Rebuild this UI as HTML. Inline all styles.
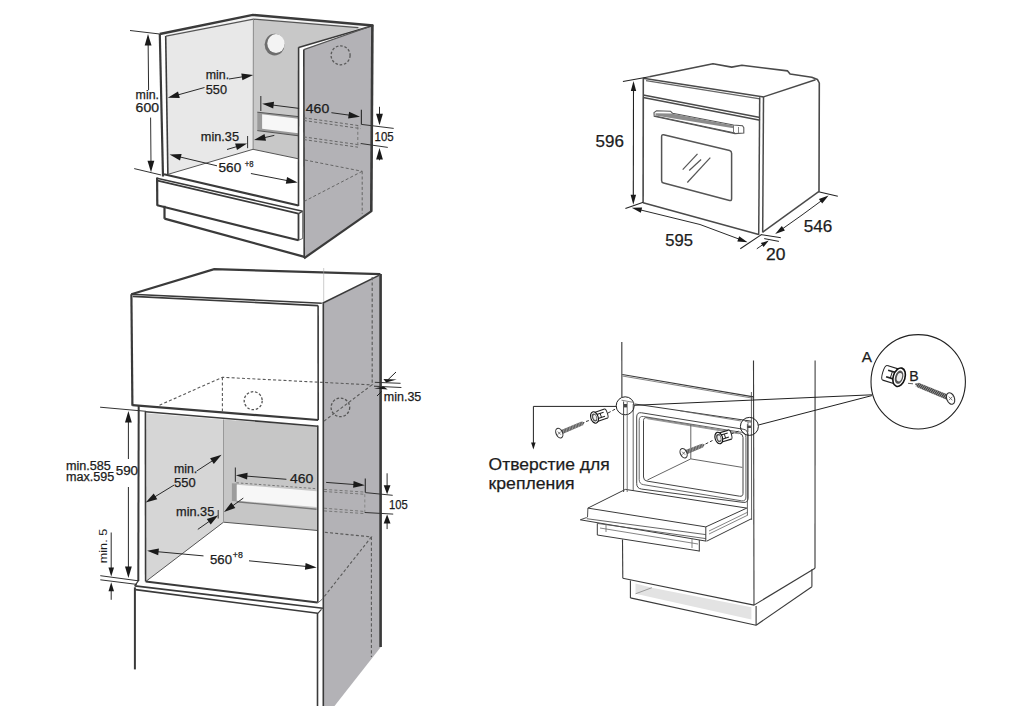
<!DOCTYPE html>
<html><head><meta charset="utf-8"><style>
html,body{margin:0;padding:0;background:#fff;}
svg{display:block;font-family:"Liberation Sans",sans-serif;}
</style></head><body>
<svg width="1024" height="706" viewBox="0 0 1024 706">
<rect width="1024" height="706" fill="#fff"/>
<polygon points="166,36.3 253.3,19 253,149.3 168.5,174.2" fill="#e8e8e8"/>
<polygon points="253.3,19 362,27.5 298.6,47.5 298.5,158.8 253,149.3" fill="#c8c8c8"/>
<polygon points="303.8,49.6 369,26.7 372.3,26 371.2,211 304.2,257.7" fill="#b3b2b6"/>
<polygon points="159.7,34 252.8,14.9 373.2,25.5 362,27.6 253.5,19.1 166,36.2" fill="#f4f4f4"/>
<ellipse cx="274.6" cy="44.6" rx="10" ry="10.8" fill="#6e6e6e"/>
<ellipse cx="276" cy="43.6" rx="8.7" ry="9.5" fill="#f3f3f3"/>
<polygon points="257.3,112.2 298.5,116.8 298.5,135.8 257.3,130.5" fill="#9a9a9a"/>
<polygon points="262.1,114.3 298.3,118.8 298.3,133.3 262.1,128.8" fill="#f7f7f7"/>
<line x1="257.3" y1="112.2" x2="298.5" y2="116.6" stroke="#555" stroke-width="1" stroke-linecap="butt"/>
<line x1="257.3" y1="130.6" x2="298.5" y2="135.8" stroke="#555" stroke-width="1" stroke-linecap="butt"/>
<polygon points="159.7,34 166,36.2 167.9,174.4 162.9,176" fill="#fff"/>
<line x1="159.8" y1="34" x2="163" y2="176.5" stroke="#3a3a3a" stroke-width="2.2" stroke-linecap="butt"/>
<line x1="165.7" y1="36" x2="167.9" y2="174.6" stroke="#3a3a3a" stroke-width="1.6" stroke-linecap="butt"/>
<polyline points="159.7,34 252.8,14.9 373.2,25.5" fill="none" stroke="#3a3a3a" stroke-width="2.4" stroke-linejoin="miter"/>
<polyline points="166,36.2 253.5,19.1 358.4,27.6" fill="none" stroke="#555" stroke-width="1.3" stroke-linejoin="miter"/>
<line x1="253.4" y1="19.2" x2="253.1" y2="149.3" stroke="#8a8a8a" stroke-width="1" stroke-linecap="butt"/>
<polygon points="298.6,47.5 303.8,49.6 304.2,257.7 298.5,257" fill="#fff"/>
<line x1="298.6" y1="47.3" x2="298.5" y2="206" stroke="#3a3a3a" stroke-width="1.6" stroke-linecap="butt"/>
<line x1="303.8" y1="49.6" x2="304.2" y2="257.7" stroke="#3a3a3a" stroke-width="1.6" stroke-linecap="butt"/>
<line x1="298.6" y1="47.5" x2="373.2" y2="25.5" stroke="#3a3a3a" stroke-width="1.6" stroke-linecap="butt"/>
<line x1="303.8" y1="49.6" x2="368.5" y2="27" stroke="#555" stroke-width="1.2" stroke-linecap="butt"/>
<line x1="372.4" y1="24.8" x2="371.3" y2="211.5" stroke="#3a3a3a" stroke-width="2.6" stroke-linecap="butt"/>
<line x1="304" y1="258.3" x2="371.8" y2="210.8" stroke="#3a3a3a" stroke-width="2.2" stroke-linecap="butt"/>
<polyline points="168.5,174.2 253,149.3 298.5,158.8" fill="none" stroke="#555" stroke-width="1" stroke-linejoin="miter"/>
<line x1="164" y1="174.2" x2="298.5" y2="205.5" stroke="#3a3a3a" stroke-width="2" stroke-linecap="butt"/>
<polygon points="157,178 302.7,211.3 302.7,238.5 298.5,240.2 157.2,205.3" fill="#fff"/>
<line x1="157" y1="178.2" x2="302.7" y2="211.3" stroke="#3a3a3a" stroke-width="1.6" stroke-linecap="butt"/>
<line x1="157.6" y1="180.6" x2="298.5" y2="213.6" stroke="#3a3a3a" stroke-width="1.6" stroke-linecap="butt"/>
<line x1="298.5" y1="213.6" x2="302.7" y2="211.3" stroke="#3a3a3a" stroke-width="1.2" stroke-linecap="butt"/>
<line x1="298.5" y1="213.4" x2="298.5" y2="240.4" stroke="#3a3a3a" stroke-width="1.8" stroke-linecap="butt"/>
<line x1="302.7" y1="211.3" x2="302.7" y2="238.5" stroke="#666" stroke-width="1" stroke-linecap="butt"/>
<line x1="298.5" y1="240.2" x2="302.7" y2="238.5" stroke="#666" stroke-width="1" stroke-linecap="butt"/>
<line x1="157.1" y1="177.6" x2="157.3" y2="205.8" stroke="#3a3a3a" stroke-width="2.2" stroke-linecap="butt"/>
<line x1="157.2" y1="205.3" x2="298.5" y2="240.3" stroke="#3a3a3a" stroke-width="2.2" stroke-linecap="butt"/>
<line x1="164.5" y1="205.8" x2="164.5" y2="218.8" stroke="#3a3a3a" stroke-width="2.2" stroke-linecap="butt"/>
<line x1="164.5" y1="218.6" x2="304.5" y2="256.9" stroke="#3a3a3a" stroke-width="2.2" stroke-linecap="butt"/>
<line x1="303.8" y1="117.8" x2="360.7" y2="125.9" stroke="#666" stroke-width="1" stroke-dasharray="3,2.2" stroke-linecap="butt"/>
<line x1="303.8" y1="120.5" x2="360.7" y2="128.6" stroke="#666" stroke-width="1" stroke-dasharray="3,2.2" stroke-linecap="butt"/>
<line x1="303.8" y1="136.9" x2="360.7" y2="145" stroke="#666" stroke-width="1" stroke-dasharray="3,2.2" stroke-linecap="butt"/>
<line x1="303.8" y1="139.6" x2="358" y2="147.2" stroke="#666" stroke-width="1" stroke-dasharray="3,2.2" stroke-linecap="butt"/>
<line x1="357.8" y1="126.6" x2="357.8" y2="145.7" stroke="#777" stroke-width="1" stroke-dasharray="3,2.2" stroke-linecap="butt"/>
<line x1="304.9" y1="160" x2="362.2" y2="171.3" stroke="#666" stroke-width="1" stroke-dasharray="3,2.2" stroke-linecap="butt"/>
<line x1="362.2" y1="171.3" x2="304.9" y2="201" stroke="#666" stroke-width="1" stroke-dasharray="3,2.2" stroke-linecap="butt"/>
<line x1="362.2" y1="171.3" x2="362.2" y2="213.8" stroke="#666" stroke-width="1" stroke-dasharray="3,2.2" stroke-linecap="butt"/>
<circle cx="340.6" cy="55.3" r="9.5" fill="none" stroke="#5a5a5a" stroke-width="1.3" stroke-dasharray="2.6,1.8"/>
<line x1="130" y1="30.5" x2="159.7" y2="34" stroke="#333" stroke-width="1" stroke-linecap="butt"/>
<line x1="134.2" y1="168.6" x2="161.1" y2="175" stroke="#333" stroke-width="1" stroke-linecap="butt"/>
<line x1="148.6" y1="90" x2="148.1" y2="40.9" stroke="#2a2a2a" stroke-width="1" stroke-linecap="butt"/>
<polygon points="148,34 151.5,45.5 144.7,45.5" fill="#1a1a1a"/>
<line x1="150.6" y1="117.6" x2="151" y2="165" stroke="#333" stroke-width="1" stroke-linecap="butt"/>
<polygon points="151,172.2 147.5,160.7 154.3,160.7" fill="#1a1a1a"/>
<text x="135.6" y="98.5" font-size="12" fill="#1c1c1c" stroke="#1c1c1c" stroke-width="0.25" text-anchor="start" textLength="23.4" lengthAdjust="spacingAndGlyphs">min.</text>
<text x="135.6" y="112" font-size="12" fill="#1c1c1c" stroke="#1c1c1c" stroke-width="0.25" text-anchor="start" textLength="23.4" lengthAdjust="spacingAndGlyphs">600</text>
<line x1="229" y1="79" x2="246.4" y2="76.2" stroke="#2a2a2a" stroke-width="1" stroke-linecap="butt"/>
<polygon points="253.2,75.1 242.4,80.3 241.3,73.6" fill="#1a1a1a"/>
<line x1="204.5" y1="87.5" x2="174.4" y2="95.9" stroke="#2a2a2a" stroke-width="1" stroke-linecap="butt"/>
<polygon points="167.8,97.8 178,91.4 179.8,98" fill="#1a1a1a"/>
<text x="205.8" y="79.4" font-size="12" fill="#1c1c1c" stroke="#1c1c1c" stroke-width="0.25" text-anchor="start" textLength="23.4" lengthAdjust="spacingAndGlyphs">min.</text>
<text x="205.8" y="93.5" font-size="12" fill="#1c1c1c" stroke="#1c1c1c" stroke-width="0.25" text-anchor="start" textLength="21.2" lengthAdjust="spacingAndGlyphs">550</text>
<text x="200.8" y="141" font-size="12" fill="#1c1c1c" stroke="#1c1c1c" stroke-width="0.25" text-anchor="start" textLength="38.2" lengthAdjust="spacingAndGlyphs">min.35</text>
<line x1="247.6" y1="136" x2="247.6" y2="148.2" stroke="#333" stroke-width="1" stroke-linecap="butt"/>
<line x1="227" y1="149.5" x2="240.5" y2="145.5" stroke="#2a2a2a" stroke-width="1" stroke-linecap="butt"/>
<polygon points="247.1,143.6 237,150.1 235.1,143.6" fill="#1a1a1a"/>
<line x1="274.3" y1="135.4" x2="260.7" y2="138.5" stroke="#2a2a2a" stroke-width="1" stroke-linecap="butt"/>
<polygon points="254,140 264.5,134.1 266,140.8" fill="#1a1a1a"/>
<line x1="217" y1="165.8" x2="176.3" y2="156.1" stroke="#2a2a2a" stroke-width="1" stroke-linecap="butt"/>
<polygon points="169.6,154.5 181.6,153.9 180,160.5" fill="#1a1a1a"/>
<text x="218.5" y="172.2" font-size="12" fill="#1c1c1c" stroke="#1c1c1c" stroke-width="0.25" text-anchor="start" textLength="22.7" lengthAdjust="spacingAndGlyphs">560</text>
<text x="244.7" y="166.8" font-size="9" fill="#1c1c1c" stroke="#1c1c1c" stroke-width="0.25" text-anchor="start" textLength="8.8" lengthAdjust="spacingAndGlyphs">+8</text>
<line x1="250.9" y1="173.5" x2="290.9" y2="181.3" stroke="#2a2a2a" stroke-width="1" stroke-linecap="butt"/>
<polygon points="297.7,182.6 285.8,183.7 287.1,177.1" fill="#1a1a1a"/>
<line x1="260.8" y1="96" x2="260.8" y2="111" stroke="#444" stroke-width="1.2" stroke-linecap="butt"/>
<line x1="299.1" y1="108.4" x2="269" y2="104.6" stroke="#2a2a2a" stroke-width="1" stroke-linecap="butt"/>
<polygon points="262.2,103.7 274,101.8 273.2,108.5" fill="#1a1a1a"/>
<text x="305.8" y="112.7" font-size="12" fill="#1c1c1c" stroke="#1c1c1c" stroke-width="0.25" text-anchor="start" textLength="23.4" lengthAdjust="spacingAndGlyphs">460</text>
<line x1="331.4" y1="112.7" x2="353.2" y2="115.7" stroke="#2a2a2a" stroke-width="1" stroke-linecap="butt"/>
<polygon points="360,116.7 348.1,118.5 349.1,111.7" fill="#1a1a1a"/>
<line x1="361.4" y1="109.8" x2="361.4" y2="124.4" stroke="#333" stroke-width="1.2" stroke-linecap="butt"/>
<line x1="361.4" y1="124.4" x2="393.7" y2="128.4" stroke="#333" stroke-width="1" stroke-linecap="butt"/>
<line x1="360.7" y1="143.5" x2="387.8" y2="147.4" stroke="#333" stroke-width="1" stroke-linecap="butt"/>
<line x1="379.5" y1="106.8" x2="379.5" y2="118.3" stroke="#2a2a2a" stroke-width="1" stroke-linecap="butt"/>
<polygon points="379.5,125.2 376.1,113.7 382.9,113.7" fill="#1a1a1a"/>
<line x1="379.5" y1="160.3" x2="379.5" y2="154.8" stroke="#2a2a2a" stroke-width="1" stroke-linecap="butt"/>
<polygon points="379.5,147.9 382.9,159.4 376.1,159.4" fill="#1a1a1a"/>
<text x="374.6" y="141.3" font-size="12" fill="#1c1c1c" stroke="#1c1c1c" stroke-width="0.25" text-anchor="start" textLength="19.1" lengthAdjust="spacingAndGlyphs">105</text>
<polygon points="323.2,303.2 378.9,275.4 381.2,274.8 381.2,646.5 334.5,706 323.2,706" fill="#b3b2b6"/>
<polygon points="146.2,413.2 223.5,419.5 223.5,522.2 146.4,581" fill="#d6d6d6"/>
<polygon points="223.5,419.5 317.8,426.8 317.8,530.5 223.5,522.2" fill="#c6c6c6"/>
<polygon points="231.9,483.2 236.8,483.6 236.8,501.6 231.9,501" fill="#9c9c9c"/>
<polygon points="236.8,484.7 316.6,491.2 316.6,507 236.8,500.6" fill="#f7f7f7"/>
<line x1="236.8" y1="501.8" x2="316.6" y2="509.2" stroke="#777" stroke-width="1.4" stroke-linecap="butt"/>
<line x1="236.4" y1="482.8" x2="316.6" y2="488.7" stroke="#777" stroke-width="1" stroke-dasharray="2.5,2" stroke-linecap="butt"/>
<polyline points="146.4,581 223.5,522.2 317.8,530.5" fill="none" stroke="#555" stroke-width="1" stroke-linejoin="miter"/>
<line x1="223.5" y1="419.5" x2="223.5" y2="522.2" stroke="#999" stroke-width="1" stroke-linecap="butt"/>
<polyline points="131.3,294.3 214.2,269.2 380.4,274.2" fill="none" stroke="#3a3a3a" stroke-width="2.2" stroke-linejoin="miter"/>
<line x1="131.3" y1="294.3" x2="321.8" y2="303.2" stroke="#3a3a3a" stroke-width="1.6" stroke-linecap="butt"/>
<line x1="132.8" y1="296.4" x2="318" y2="305.6" stroke="#3a3a3a" stroke-width="1.6" stroke-linecap="butt"/>
<line x1="131.4" y1="294.3" x2="132.4" y2="405.8" stroke="#3a3a3a" stroke-width="2.2" stroke-linecap="butt"/>
<line x1="132.4" y1="405.2" x2="318.2" y2="420" stroke="#3a3a3a" stroke-width="2.2" stroke-linecap="butt"/>
<line x1="318.1" y1="305.4" x2="318.2" y2="420" stroke="#3a3a3a" stroke-width="1.6" stroke-linecap="butt"/>
<line x1="322.5" y1="303.2" x2="378.9" y2="275.4" stroke="#3a3a3a" stroke-width="1.6" stroke-linecap="butt"/>
<line x1="323.3" y1="303.2" x2="323.3" y2="706" stroke="#3a3a3a" stroke-width="1.6" stroke-linecap="butt"/>
<line x1="380.6" y1="274" x2="380.6" y2="647" stroke="#3a3a3a" stroke-width="2.6" stroke-linecap="butt"/>
<line x1="323.7" y1="268" x2="323.7" y2="302" stroke="#aaa" stroke-width="0.6" stroke-linecap="butt"/>
<line x1="138.7" y1="406" x2="138.3" y2="581" stroke="#3a3a3a" stroke-width="2" stroke-linecap="butt"/>
<line x1="145.4" y1="411.5" x2="145.6" y2="581.5" stroke="#3a3a3a" stroke-width="1.6" stroke-linecap="butt"/>
<line x1="145.5" y1="411.7" x2="318" y2="426.3" stroke="#3a3a3a" stroke-width="1.6" stroke-linecap="butt"/>
<line x1="317.8" y1="425.5" x2="317.8" y2="602.6" stroke="#3a3a3a" stroke-width="1.6" stroke-linecap="butt"/>
<line x1="145.7" y1="581.5" x2="317.6" y2="602.6" stroke="#3a3a3a" stroke-width="2" stroke-linecap="butt"/>
<line x1="134.7" y1="585.9" x2="322.9" y2="608.3" stroke="#3a3a3a" stroke-width="1.6" stroke-linecap="butt"/>
<line x1="135.4" y1="589.6" x2="317.8" y2="613.3" stroke="#3a3a3a" stroke-width="1.6" stroke-linecap="butt"/>
<line x1="317.8" y1="613.3" x2="321.5" y2="609.4" stroke="#3a3a3a" stroke-width="1.2" stroke-linecap="butt"/>
<line x1="317.8" y1="603" x2="322.9" y2="598.6" stroke="#777" stroke-width="1" stroke-linecap="butt"/>
<line x1="138.3" y1="580.8" x2="134.7" y2="585.9" stroke="#3a3a3a" stroke-width="1.2" stroke-linecap="butt"/>
<line x1="134.9" y1="587.3" x2="134.9" y2="669.4" stroke="#3a3a3a" stroke-width="2" stroke-linecap="butt"/>
<line x1="317.5" y1="613" x2="317.5" y2="706" stroke="#3a3a3a" stroke-width="1.6" stroke-linecap="butt"/>
<polyline points="159.5,405.2 222.4,377.3 371.9,384.9 323.5,421.5" fill="none" stroke="#5a5a5a" stroke-width="1.1" stroke-dasharray="3,2.2" stroke-linejoin="miter"/>
<line x1="222.4" y1="377.3" x2="222.4" y2="412.5" stroke="#5a5a5a" stroke-width="1.1" stroke-dasharray="3,2.2" stroke-linecap="butt"/>
<line x1="372.2" y1="277" x2="372.2" y2="384.9" stroke="#5e5e5e" stroke-width="1.2" stroke-dasharray="3.2,2.2" stroke-linecap="butt"/>
<circle cx="253.2" cy="400.7" r="9" fill="none" stroke="#555" stroke-width="1.3" stroke-dasharray="2.6,1.8"/>
<circle cx="340.4" cy="407.4" r="9.3" fill="none" stroke="#555" stroke-width="1.3" stroke-dasharray="2.6,1.8"/>
<line x1="324" y1="489.4" x2="363.7" y2="492" stroke="#777" stroke-width="1" stroke-dasharray="3,2.2" stroke-linecap="butt"/>
<line x1="324" y1="491.5" x2="363.7" y2="494.2" stroke="#777" stroke-width="1" stroke-dasharray="3,2.2" stroke-linecap="butt"/>
<line x1="324" y1="508.2" x2="363.7" y2="511.4" stroke="#777" stroke-width="1" stroke-dasharray="3,2.2" stroke-linecap="butt"/>
<line x1="324" y1="510.9" x2="363.7" y2="513.5" stroke="#777" stroke-width="1" stroke-dasharray="3,2.2" stroke-linecap="butt"/>
<line x1="364.8" y1="494.2" x2="364.8" y2="513" stroke="#888" stroke-width="1" stroke-dasharray="3,2.2" stroke-linecap="butt"/>
<polyline points="324.8,532.3 371.4,536.9 322.8,598.4" fill="none" stroke="#5a5a5a" stroke-width="1.1" stroke-dasharray="3,2.2" stroke-linejoin="miter"/>
<line x1="371.4" y1="536.9" x2="371.4" y2="657" stroke="#5a5a5a" stroke-width="1.1" stroke-dasharray="3.2,2.2" stroke-linecap="butt"/>
<line x1="100.1" y1="407.2" x2="146" y2="411.3" stroke="#333" stroke-width="1" stroke-linecap="butt"/>
<line x1="100.3" y1="575.7" x2="138.3" y2="580.8" stroke="#333" stroke-width="1" stroke-linecap="butt"/>
<line x1="100.3" y1="579.8" x2="136.9" y2="584.4" stroke="#333" stroke-width="1" stroke-linecap="butt"/>
<line x1="128.4" y1="459" x2="128.4" y2="417.9" stroke="#2a2a2a" stroke-width="1" stroke-linecap="butt"/>
<polygon points="128.4,411 131.8,422.5 125,422.5" fill="#1a1a1a"/>
<line x1="128.4" y1="487" x2="128.4" y2="571" stroke="#2a2a2a" stroke-width="1" stroke-linecap="butt"/>
<polygon points="128.4,577.9 125,566.4 131.8,566.4" fill="#1a1a1a"/>
<text x="115.7" y="474.7" font-size="12" fill="#1c1c1c" stroke="#1c1c1c" stroke-width="0.25" text-anchor="start" textLength="22.4" lengthAdjust="spacingAndGlyphs">590</text>
<text x="65.9" y="469.8" font-size="12" fill="#1c1c1c" stroke="#1c1c1c" stroke-width="0.25" text-anchor="start" textLength="44.9" lengthAdjust="spacingAndGlyphs">min.585</text>
<text x="65.9" y="480.5" font-size="12" fill="#1c1c1c" stroke="#1c1c1c" stroke-width="0.25" text-anchor="start" textLength="48.3" lengthAdjust="spacingAndGlyphs">max.595</text>
<line x1="111.2" y1="532.5" x2="111.2" y2="571" stroke="#2a2a2a" stroke-width="1" stroke-linecap="butt"/>
<polygon points="111.2,576.4 108.5,567.4 114,567.4" fill="#1a1a1a"/>
<line x1="111.2" y1="599.8" x2="111.2" y2="587.7" stroke="#2a2a2a" stroke-width="1" stroke-linecap="butt"/>
<polygon points="111.2,582.3 114,591.3 108.5,591.3" fill="#1a1a1a"/>
<text x="0" y="0" font-size="11.5" fill="#1c1c1c" textLength="34.4" lengthAdjust="spacingAndGlyphs" transform="translate(106.8,563.2) rotate(-90)">min. 5</text>
<line x1="196.7" y1="471" x2="215.8" y2="458.6" stroke="#2a2a2a" stroke-width="1" stroke-linecap="butt"/>
<polygon points="221.6,454.8 213.8,463.9 210.1,458.2" fill="#1a1a1a"/>
<line x1="174" y1="485.1" x2="151.6" y2="498.8" stroke="#2a2a2a" stroke-width="1" stroke-linecap="butt"/>
<polygon points="145.7,502.4 153.7,493.5 157.3,499.3" fill="#1a1a1a"/>
<text x="174" y="473.2" font-size="12" fill="#1c1c1c" stroke="#1c1c1c" stroke-width="0.25" text-anchor="start" textLength="23.3" lengthAdjust="spacingAndGlyphs">min.</text>
<text x="174" y="487.4" font-size="12" fill="#1c1c1c" stroke="#1c1c1c" stroke-width="0.25" text-anchor="start" textLength="21.6" lengthAdjust="spacingAndGlyphs">550</text>
<text x="176" y="515.8" font-size="12" fill="#1c1c1c" stroke="#1c1c1c" stroke-width="0.25" text-anchor="start" textLength="38.3" lengthAdjust="spacingAndGlyphs">min.35</text>
<line x1="218.2" y1="510" x2="218.2" y2="518.5" stroke="#333" stroke-width="1" stroke-linecap="butt"/>
<line x1="197.8" y1="529.4" x2="212.5" y2="519.1" stroke="#2a2a2a" stroke-width="1" stroke-linecap="butt"/>
<polygon points="218.2,515.2 210.7,524.6 206.8,519" fill="#1a1a1a"/>
<line x1="243.3" y1="498.1" x2="229.6" y2="508" stroke="#2a2a2a" stroke-width="1" stroke-linecap="butt"/>
<polygon points="224,512 231.3,502.5 235.3,508" fill="#1a1a1a"/>
<line x1="235.4" y1="467.4" x2="235.4" y2="481.8" stroke="#444" stroke-width="1.2" stroke-linecap="butt"/>
<line x1="286.4" y1="479.3" x2="242.8" y2="475.8" stroke="#2a2a2a" stroke-width="1" stroke-linecap="butt"/>
<polygon points="235.9,475.3 247.6,472.8 247.1,479.6" fill="#1a1a1a"/>
<text x="289.9" y="482.7" font-size="12" fill="#1c1c1c" stroke="#1c1c1c" stroke-width="0.25" text-anchor="start" textLength="23.3" lengthAdjust="spacingAndGlyphs">460</text>
<line x1="326.1" y1="482.4" x2="357.9" y2="484.8" stroke="#2a2a2a" stroke-width="1" stroke-linecap="butt"/>
<polygon points="364.8,485.3 353.1,487.8 353.6,481.1" fill="#1a1a1a"/>
<line x1="365.3" y1="478.6" x2="365.3" y2="492.6" stroke="#333" stroke-width="1.2" stroke-linecap="butt"/>
<line x1="365.3" y1="492.6" x2="392.7" y2="495.3" stroke="#333" stroke-width="1" stroke-linecap="butt"/>
<line x1="364.8" y1="512.5" x2="393.2" y2="514.1" stroke="#333" stroke-width="1" stroke-linecap="butt"/>
<line x1="387.1" y1="473.3" x2="387.1" y2="488.8" stroke="#2a2a2a" stroke-width="1" stroke-linecap="butt"/>
<polygon points="387.1,494.2 383.7,485.2 390.5,485.2" fill="#1a1a1a"/>
<line x1="387.1" y1="529.1" x2="387.1" y2="520" stroke="#2a2a2a" stroke-width="1" stroke-linecap="butt"/>
<polygon points="387.1,514.6 390.5,523.6 383.7,523.6" fill="#1a1a1a"/>
<text x="389" y="508.7" font-size="12" fill="#1c1c1c" stroke="#1c1c1c" stroke-width="0.25" text-anchor="start" textLength="18.7" lengthAdjust="spacingAndGlyphs">105</text>
<line x1="203.5" y1="555.9" x2="154" y2="551.4" stroke="#2a2a2a" stroke-width="1" stroke-linecap="butt"/>
<polygon points="147.1,550.8 158.9,548.4 158.2,555.2" fill="#1a1a1a"/>
<text x="210" y="563.6" font-size="12" fill="#1c1c1c" stroke="#1c1c1c" stroke-width="0.25" text-anchor="start" textLength="22" lengthAdjust="spacingAndGlyphs">560</text>
<text x="232.8" y="557.5" font-size="9" fill="#1c1c1c" stroke="#1c1c1c" stroke-width="0.25" text-anchor="start" textLength="10" lengthAdjust="spacingAndGlyphs">+8</text>
<line x1="249" y1="560.8" x2="309.8" y2="566.8" stroke="#2a2a2a" stroke-width="1" stroke-linecap="butt"/>
<polygon points="316.7,567.5 304.9,569.8 305.6,563" fill="#1a1a1a"/>
<line x1="374.8" y1="382.3" x2="400.6" y2="383.3" stroke="#333" stroke-width="1" stroke-linecap="butt"/>
<line x1="374" y1="386.2" x2="401.4" y2="387.5" stroke="#333" stroke-width="1" stroke-linecap="butt"/>
<line x1="396" y1="372" x2="387.5" y2="380.2" stroke="#222" stroke-width="1" stroke-linecap="butt"/>
<polygon points="383.4,379.1 396.7,379.5 386.2,382.6" fill="#1a1a1a"/>
<polygon points="374,388.4 383.8,386.4 387.7,389.6" fill="#1a1a1a"/>
<line x1="381.5" y1="391.5" x2="377" y2="396" stroke="#222" stroke-width="1" stroke-linecap="butt"/>
<text x="383.8" y="401.4" font-size="12" fill="#1c1c1c" stroke="#1c1c1c" stroke-width="0.25" text-anchor="start" textLength="37.5" lengthAdjust="spacingAndGlyphs">min.35</text>
<polyline points="649.3,76.7 713,63.8 731.7,67.1 741.9,65.2 787.6,70.9 790.1,74 811.7,77.2 817.5,79.6 819.3,83 819,191.7" fill="none" stroke="#4a4a4a" stroke-width="1.6" stroke-linejoin="round"/>
<line x1="763.5" y1="96.9" x2="815.5" y2="79.8" stroke="#4a4a4a" stroke-width="1.5" stroke-linecap="butt"/>
<line x1="762.7" y1="232.2" x2="818.7" y2="191.7" stroke="#4a4a4a" stroke-width="1.5" stroke-linecap="butt"/>
<line x1="643.3" y1="78.3" x2="643.1" y2="202.7" stroke="#4a4a4a" stroke-width="1.6" stroke-linecap="butt"/>
<line x1="643.2" y1="78.3" x2="763.8" y2="97.1" stroke="#4a4a4a" stroke-width="1.5" stroke-linecap="butt"/>
<line x1="646" y1="80.6" x2="760" y2="98.9" stroke="#666" stroke-width="1.2" stroke-linecap="butt"/>
<line x1="643.2" y1="94.9" x2="760" y2="117.6" stroke="#4a4a4a" stroke-width="1.5" stroke-linecap="butt"/>
<line x1="643.2" y1="97.4" x2="760" y2="120.2" stroke="#4a4a4a" stroke-width="1.5" stroke-linecap="butt"/>
<line x1="759.7" y1="97.3" x2="758.7" y2="235" stroke="#4a4a4a" stroke-width="1.5" stroke-linecap="butt"/>
<line x1="763.5" y1="96.9" x2="762.7" y2="232.5" stroke="#4a4a4a" stroke-width="1.5" stroke-linecap="butt"/>
<line x1="643.1" y1="202.7" x2="758.7" y2="234.5" stroke="#4a4a4a" stroke-width="1.5" stroke-linecap="butt"/>
<polygon points="654,112.6 656.5,110.8 670.5,111.2 672.5,113.2 733.5,125 742.5,125.8 743.8,127.6 743.8,133 735,133.6 654.2,116.3" fill="#fff" stroke="#555" stroke-width="1.1"/>
<polygon points="655.5,113.3 671.5,113.6 733.5,125.6 733.5,128.3 655.5,115.6" fill="#8c8c8c"/>
<line x1="655" y1="116" x2="735" y2="133" stroke="#555" stroke-width="1.1" stroke-linecap="butt"/>
<line x1="733.5" y1="125.3" x2="733.5" y2="133.4" stroke="#666" stroke-width="0.9" stroke-linecap="butt"/>
<line x1="738.5" y1="127" x2="738.5" y2="133.3" stroke="#777" stroke-width="0.9" stroke-linecap="butt"/>
<path d="M663.6,134.8 L729.6,150.6 Q731.6,151.1 731.6,153.2 L731.6,198.8 Q731.6,201 729.6,200.5 L663.6,183 Q661.6,182.5 661.6,180.4 L661.6,136.8 Q661.6,134.3 663.6,134.8 Z" fill="none" stroke="#555" stroke-width="1.5"/>
<line x1="682.7" y1="169.6" x2="697.5" y2="153.9" stroke="#555" stroke-width="1.2" stroke-linecap="butt"/>
<line x1="689.2" y1="170.5" x2="701.1" y2="159.5" stroke="#555" stroke-width="1.2" stroke-linecap="butt"/>
<line x1="687.3" y1="182.5" x2="710.3" y2="157.6" stroke="#555" stroke-width="1.2" stroke-linecap="butt"/>
<line x1="622.9" y1="81.5" x2="649.3" y2="76.7" stroke="#222" stroke-width="1.1" stroke-linecap="butt"/>
<line x1="633.5" y1="85" x2="633.3" y2="200" stroke="#222" stroke-width="1.1" stroke-linecap="butt"/>
<polygon points="633.5,81 636.2,91 630.8,91" fill="#1a1a1a"/>
<polygon points="633.3,204.8 630.6,194.8 636.1,194.8" fill="#1a1a1a"/>
<line x1="625.4" y1="208.5" x2="643.3" y2="202.3" stroke="#222" stroke-width="1.1" stroke-linecap="butt"/>
<line x1="700" y1="224.5" x2="637.5" y2="209.2" stroke="#2a2a2a" stroke-width="1" stroke-linecap="butt"/>
<polygon points="631.7,207.8 642.1,207.5 640.8,212.8" fill="#1a1a1a"/>
<line x1="700" y1="224.5" x2="742" y2="240.2" stroke="#2a2a2a" stroke-width="1" stroke-linecap="butt"/>
<polygon points="747.6,242.3 737.3,241.4 739.2,236.2" fill="#1a1a1a"/>
<line x1="740.3" y1="248.8" x2="761.4" y2="234.6" stroke="#222" stroke-width="1.1" stroke-linecap="butt"/>
<line x1="760.9" y1="234.6" x2="780.8" y2="237.7" stroke="#222" stroke-width="1" stroke-linecap="butt"/>
<line x1="764.2" y1="238.6" x2="778.9" y2="241.4" stroke="#222" stroke-width="1" stroke-linecap="butt"/>
<line x1="756.8" y1="248.8" x2="764.9" y2="243.2" stroke="#2a2a2a" stroke-width="1" stroke-linecap="butt"/>
<polygon points="768.8,240.5 763.6,247.1 760.8,243" fill="#1a1a1a"/>
<line x1="802" y1="215" x2="780.1" y2="230.5" stroke="#2a2a2a" stroke-width="1" stroke-linecap="butt"/>
<polygon points="775.2,234 781.8,226 784.9,230.5" fill="#1a1a1a"/>
<line x1="802" y1="215" x2="823.8" y2="199" stroke="#2a2a2a" stroke-width="1" stroke-linecap="butt"/>
<polygon points="828.6,195.4 822.2,203.5 818.9,199.1" fill="#1a1a1a"/>
<line x1="818.5" y1="191.7" x2="837.8" y2="196.3" stroke="#222" stroke-width="1.1" stroke-linecap="butt"/>
<text x="595.6" y="146.8" font-size="16.5" fill="#1c1c1c" stroke="#1c1c1c" stroke-width="0.25" text-anchor="start" textLength="28.3" lengthAdjust="spacingAndGlyphs">596</text>
<text x="665.2" y="245.5" font-size="16.5" fill="#1c1c1c" stroke="#1c1c1c" stroke-width="0.25" text-anchor="start" textLength="27.7" lengthAdjust="spacingAndGlyphs">595</text>
<text x="803.8" y="232.4" font-size="16.5" fill="#1c1c1c" stroke="#1c1c1c" stroke-width="0.25" text-anchor="start" textLength="28.5" lengthAdjust="spacingAndGlyphs">546</text>
<text x="766" y="260" font-size="16.5" fill="#1c1c1c" stroke="#1c1c1c" stroke-width="0.25" text-anchor="start" textLength="19.4" lengthAdjust="spacingAndGlyphs">20</text>
<polygon points="635.5,583.6 651.9,587.7 751.4,607.2 751.4,619.5 635.5,593.8" fill="#e3e3e3"/>
<line x1="635.5" y1="593.8" x2="651.9" y2="587.7" stroke="#888" stroke-width="0.8" stroke-linecap="butt"/>
<line x1="621.8" y1="341.9" x2="621.9" y2="397" stroke="#3a3a3a" stroke-width="1.1" stroke-linecap="butt"/>
<line x1="622.5" y1="539.5" x2="622.8" y2="578.2" stroke="#3a3a3a" stroke-width="1.1" stroke-linecap="butt"/>
<line x1="753.5" y1="360.5" x2="754" y2="605.3" stroke="#3a3a3a" stroke-width="1.1" stroke-linecap="butt"/>
<line x1="751.4" y1="392" x2="751.6" y2="520" stroke="#555" stroke-width="0.9" stroke-linecap="butt"/>
<line x1="815.1" y1="360.5" x2="815" y2="568.2" stroke="#3a3a3a" stroke-width="1.1" stroke-linecap="butt"/>
<line x1="622.3" y1="374.5" x2="753.5" y2="396.8" stroke="#3a3a3a" stroke-width="1.2" stroke-linecap="butt"/>
<line x1="622.3" y1="376" x2="753.5" y2="398.3" stroke="#666" stroke-width="0.8" stroke-linecap="butt"/>
<line x1="622.8" y1="578.2" x2="754" y2="605.1" stroke="#3a3a3a" stroke-width="1.1" stroke-linecap="butt"/>
<line x1="754" y1="605.1" x2="815" y2="568.2" stroke="#3a3a3a" stroke-width="1.1" stroke-linecap="butt"/>
<line x1="630.4" y1="580.5" x2="630.4" y2="597.9" stroke="#3a3a3a" stroke-width="1.1" stroke-linecap="butt"/>
<line x1="630.4" y1="597.9" x2="756.1" y2="625.2" stroke="#3a3a3a" stroke-width="1.1" stroke-linecap="butt"/>
<line x1="756.1" y1="606.1" x2="756.1" y2="625.2" stroke="#3a3a3a" stroke-width="1.1" stroke-linecap="butt"/>
<line x1="756.1" y1="625.2" x2="811.9" y2="586.7" stroke="#3a3a3a" stroke-width="1.1" stroke-linecap="butt"/>
<line x1="811.9" y1="569.2" x2="811.9" y2="586.7" stroke="#3a3a3a" stroke-width="1.1" stroke-linecap="butt"/>
<line x1="633.2" y1="404" x2="633.2" y2="508" stroke="#555" stroke-width="0.9" stroke-linecap="butt"/>
<line x1="747.4" y1="424" x2="747.4" y2="515" stroke="#555" stroke-width="0.9" stroke-linecap="butt"/>
<line x1="634.9" y1="404" x2="751.4" y2="421.2" stroke="#3a3a3a" stroke-width="1" stroke-linecap="butt"/>
<line x1="680" y1="410.8" x2="741.2" y2="421" stroke="#666" stroke-width="0.8" stroke-linecap="butt"/>
<path d="M641.6,412.8 L743.2,429.2 Q748.1,430 748.1,435 L748.1,498 Q748.1,503 743.1,502.4 L641.7,489.1 Q636.7,488.5 636.7,483.5 L636.7,417 Q636.7,412 641.6,412.8 Z" fill="none" stroke="#444" stroke-width="1"/>
<path d="M643.6,416.5 L741.5,432.3 Q745.9,433 745.9,437.5 L745.9,497 Q745.9,501.5 741.5,500.8 L643.6,484.7 Q639.2,484 639.2,479.5 L639.2,420.3 Q639.2,415.8 643.6,416.5 Z" fill="none" stroke="#555" stroke-width="0.9"/>
<path d="M647,417.8 L739.5,433.4 Q743,434 743,437.5 L743,493.3 Q743,496.8 739.5,496.2 L647,481.1 Q643.5,480.5 643.5,477 L643.5,420.7 Q643.5,417.2 647,417.8 Z" fill="none" stroke="#444" stroke-width="1"/>
<line x1="647.5" y1="418.5" x2="739" y2="433.5" stroke="#999" stroke-width="1.6" stroke-linecap="butt"/>
<line x1="690.8" y1="424.4" x2="690.8" y2="458.9" stroke="#555" stroke-width="0.9" stroke-linecap="butt"/>
<line x1="690.8" y1="458.9" x2="742.3" y2="467.4" stroke="#555" stroke-width="0.9" stroke-linecap="butt"/>
<line x1="690.8" y1="458.9" x2="647.4" y2="480" stroke="#555" stroke-width="0.9" stroke-linecap="butt"/>
<polygon points="587.9,508.1 625.4,489.4 746.8,508.1 705.8,526.9" fill="#fff"/>
<polyline points="587.9,508.1 625.4,489.4 746.8,508.1" fill="none" stroke="#3a3a3a" stroke-width="1" stroke-linejoin="miter"/>
<line x1="587.9" y1="508.1" x2="705.8" y2="526.9" stroke="#3a3a3a" stroke-width="1" stroke-linecap="butt"/>
<line x1="587.9" y1="508.1" x2="587.5" y2="517.3" stroke="#3a3a3a" stroke-width="0.9" stroke-linecap="butt"/>
<line x1="580.3" y1="519.8" x2="586.7" y2="517.5" stroke="#3a3a3a" stroke-width="0.9" stroke-linecap="butt"/>
<line x1="580.3" y1="519.8" x2="706.5" y2="541.2" stroke="#3a3a3a" stroke-width="1" stroke-linecap="butt"/>
<line x1="586.7" y1="518.7" x2="705.8" y2="534.6" stroke="#555" stroke-width="0.9" stroke-linecap="butt"/>
<line x1="597.3" y1="523.4" x2="705.8" y2="538.6" stroke="#555" stroke-width="0.9" stroke-linecap="butt"/>
<line x1="705.8" y1="526.9" x2="705.8" y2="541" stroke="#3a3a3a" stroke-width="1" stroke-linecap="butt"/>
<line x1="705.8" y1="526.9" x2="746.8" y2="508.1" stroke="#3a3a3a" stroke-width="1" stroke-linecap="butt"/>
<line x1="707" y1="541" x2="751.5" y2="518.7" stroke="#3a3a3a" stroke-width="1" stroke-linecap="butt"/>
<line x1="709" y1="531" x2="748" y2="512" stroke="#666" stroke-width="0.8" stroke-linecap="butt"/>
<line x1="709" y1="534" x2="748" y2="515" stroke="#666" stroke-width="0.8" stroke-linecap="butt"/>
<line x1="597.3" y1="523.4" x2="597.3" y2="535" stroke="#3a3a3a" stroke-width="1" stroke-linecap="butt"/>
<line x1="597.3" y1="535" x2="699.3" y2="551" stroke="#3a3a3a" stroke-width="1" stroke-linecap="butt"/>
<line x1="699.3" y1="540" x2="699.3" y2="551.5" stroke="#3a3a3a" stroke-width="1" stroke-linecap="butt"/>
<line x1="600" y1="528" x2="698" y2="544" stroke="#666" stroke-width="0.8" stroke-linecap="butt"/>
<line x1="606" y1="525" x2="606" y2="532" stroke="#666" stroke-width="0.8" stroke-linecap="butt"/>
<line x1="692" y1="538" x2="692" y2="548" stroke="#666" stroke-width="0.8" stroke-linecap="butt"/>
<circle cx="625.2" cy="405.8" r="9" fill="none" stroke="#222" stroke-width="1"/>
<circle cx="749.4" cy="426.4" r="9" fill="none" stroke="#222" stroke-width="1"/>
<line x1="621.5" y1="400.2" x2="633" y2="402.3" stroke="#777" stroke-width="0.9" stroke-linecap="butt"/>
<line x1="623.6" y1="401.5" x2="623.6" y2="492" stroke="#444" stroke-width="1" stroke-linecap="butt"/>
<line x1="627.2" y1="402" x2="627.2" y2="492" stroke="#666" stroke-width="0.9" stroke-linecap="butt"/>
<rect x="624" y="404" width="3" height="3.4" fill="#444"/>
<line x1="744.8" y1="421.3" x2="751.2" y2="422.3" stroke="#777" stroke-width="0.9" stroke-linecap="butt"/>
<line x1="748" y1="422" x2="748" y2="432" stroke="#666" stroke-width="0.9" stroke-linecap="butt"/>
<rect x="747.3" y="425.6" width="3.6" height="2.4" fill="#444"/>
<line x1="634.2" y1="405.3" x2="871.9" y2="394.8" stroke="#222" stroke-width="1" stroke-linecap="butt"/>
<line x1="758.4" y1="425" x2="871.9" y2="395.6" stroke="#222" stroke-width="1" stroke-linecap="butt"/>
<line x1="533.4" y1="406.4" x2="616.2" y2="406.4" stroke="#222" stroke-width="1" stroke-linecap="butt"/>
<line x1="533.4" y1="406.4" x2="533.4" y2="444" stroke="#222" stroke-width="1" stroke-linecap="butt"/>
<polygon points="533.4,449.4 531.1,442.4 535.6,442.4" fill="#1a1a1a"/>
<circle cx="918.2" cy="381.8" r="47.2" fill="none" stroke="#222" stroke-width="1.1"/>
<text x="861.8" y="361.9" font-size="14" fill="#1c1c1c" stroke="#1c1c1c" stroke-width="0.25" text-anchor="start" textLength="10.2" lengthAdjust="spacingAndGlyphs">A</text>
<text x="909.3" y="380.6" font-size="14" fill="#1c1c1c" stroke="#1c1c1c" stroke-width="0.25" text-anchor="start" textLength="9.4" lengthAdjust="spacingAndGlyphs">B</text>
<line x1="908" y1="383.3" x2="913" y2="383.8" stroke="#333" stroke-width="0.8" stroke-linecap="butt"/>
<polygon points="562.4,434.1 582.7,425.2 584.7,422.3 581.2,421.7 560.8,430.2" fill="#444"/>
<line x1="562.4" y1="434.1" x2="561.7" y2="429.8" stroke="#bbb" stroke-width="0.7" stroke-linecap="butt"/>
<line x1="563.9" y1="433.4" x2="563.2" y2="429.2" stroke="#bbb" stroke-width="0.7" stroke-linecap="butt"/>
<line x1="565.4" y1="432.8" x2="564.6" y2="428.5" stroke="#bbb" stroke-width="0.7" stroke-linecap="butt"/>
<line x1="566.8" y1="432.2" x2="566.1" y2="427.9" stroke="#bbb" stroke-width="0.7" stroke-linecap="butt"/>
<line x1="568.3" y1="431.6" x2="567.6" y2="427.3" stroke="#bbb" stroke-width="0.7" stroke-linecap="butt"/>
<line x1="569.8" y1="430.9" x2="569.1" y2="426.7" stroke="#bbb" stroke-width="0.7" stroke-linecap="butt"/>
<line x1="571.3" y1="430.3" x2="570.5" y2="426" stroke="#bbb" stroke-width="0.7" stroke-linecap="butt"/>
<line x1="572.7" y1="429.7" x2="572" y2="425.4" stroke="#bbb" stroke-width="0.7" stroke-linecap="butt"/>
<line x1="574.2" y1="429" x2="573.5" y2="424.8" stroke="#bbb" stroke-width="0.7" stroke-linecap="butt"/>
<line x1="575.7" y1="428.4" x2="575" y2="424.2" stroke="#bbb" stroke-width="0.7" stroke-linecap="butt"/>
<line x1="577.1" y1="427.8" x2="576.4" y2="423.5" stroke="#bbb" stroke-width="0.7" stroke-linecap="butt"/>
<line x1="578.6" y1="427.2" x2="577.9" y2="422.9" stroke="#bbb" stroke-width="0.7" stroke-linecap="butt"/>
<line x1="580.1" y1="426.5" x2="579.4" y2="422.3" stroke="#bbb" stroke-width="0.7" stroke-linecap="butt"/>
<line x1="581.6" y1="425.9" x2="580.8" y2="421.7" stroke="#bbb" stroke-width="0.7" stroke-linecap="butt"/>
<line x1="583" y1="425.3" x2="582.3" y2="421" stroke="#bbb" stroke-width="0.7" stroke-linecap="butt"/>
<ellipse cx="559.3" cy="433.1" rx="3.2" ry="5" transform="rotate(-25 559.3 433.1)" fill="#fff" stroke="#333" stroke-width="1.1"/>
<line x1="557.8" y1="431.6" x2="560.8" y2="434.6" stroke="#555" stroke-width="0.8" stroke-linecap="butt"/>
<line x1="557.8" y1="434.6" x2="560.8" y2="431.6" stroke="#555" stroke-width="0.8" stroke-linecap="butt"/>
<line x1="586" y1="421.5" x2="592" y2="419.5" stroke="#333" stroke-width="1" stroke-dasharray="3,2" stroke-linecap="butt"/>
<ellipse cx="606" cy="413.6" rx="1.4" ry="4.7" transform="rotate(-18.7 606 413.6)" fill="#fff" stroke="#222" stroke-width="1"/>
<polygon points="596,422 607.5,418.1 604.5,409.1 593,413" fill="#fff"/>
<line x1="596" y1="422" x2="607.5" y2="418.1" stroke="#222" stroke-width="1.1" stroke-linecap="butt"/>
<line x1="593" y1="413" x2="604.5" y2="409.1" stroke="#222" stroke-width="1.1" stroke-linecap="butt"/>
<line x1="596.7" y1="414.5" x2="603.6" y2="412.2" stroke="#222" stroke-width="1.062" stroke-linecap="butt"/>
<line x1="598.1" y1="418.5" x2="605" y2="416.2" stroke="#222" stroke-width="1.062" stroke-linecap="butt"/>
<line x1="601.5" y1="417.4" x2="600.1" y2="413.3" stroke="#222" stroke-width="1" stroke-linecap="butt"/>
<ellipse cx="594.5" cy="417.5" rx="3.7" ry="5.9" transform="rotate(-18.7 594.5 417.5)" fill="#fff" stroke="#111" stroke-width="1.1"/>
<ellipse cx="594.5" cy="417.5" rx="2.5" ry="4.2" transform="rotate(-18.7 594.5 417.5)" fill="#555" stroke="none" stroke-width="0"/>
<ellipse cx="594.8" cy="417.5" rx="1.5" ry="2.7" transform="rotate(-18.7 594.8 417.5)" fill="#eee" stroke="none" stroke-width="0"/>
<line x1="608" y1="413" x2="616" y2="408.7" stroke="#333" stroke-width="1" stroke-dasharray="3,2" stroke-linecap="butt"/>
<polygon points="686.7,454.2 702.7,447.4 704.8,444.5 701.3,443.9 685.1,450.3" fill="#444"/>
<line x1="686.7" y1="454.2" x2="686" y2="449.9" stroke="#bbb" stroke-width="0.7" stroke-linecap="butt"/>
<line x1="688.2" y1="453.6" x2="687.5" y2="449.3" stroke="#bbb" stroke-width="0.7" stroke-linecap="butt"/>
<line x1="689.7" y1="453" x2="689" y2="448.7" stroke="#bbb" stroke-width="0.7" stroke-linecap="butt"/>
<line x1="691.2" y1="452.4" x2="690.5" y2="448.1" stroke="#bbb" stroke-width="0.7" stroke-linecap="butt"/>
<line x1="692.6" y1="451.8" x2="692" y2="447.5" stroke="#bbb" stroke-width="0.7" stroke-linecap="butt"/>
<line x1="694.1" y1="451.2" x2="693.4" y2="446.9" stroke="#bbb" stroke-width="0.7" stroke-linecap="butt"/>
<line x1="695.6" y1="450.5" x2="694.9" y2="446.3" stroke="#bbb" stroke-width="0.7" stroke-linecap="butt"/>
<line x1="697.1" y1="449.9" x2="696.4" y2="445.7" stroke="#bbb" stroke-width="0.7" stroke-linecap="butt"/>
<line x1="698.6" y1="449.3" x2="697.9" y2="445.1" stroke="#bbb" stroke-width="0.7" stroke-linecap="butt"/>
<line x1="700" y1="448.7" x2="699.4" y2="444.5" stroke="#bbb" stroke-width="0.7" stroke-linecap="butt"/>
<line x1="701.5" y1="448.1" x2="700.8" y2="443.9" stroke="#bbb" stroke-width="0.7" stroke-linecap="butt"/>
<line x1="703" y1="447.5" x2="702.3" y2="443.2" stroke="#bbb" stroke-width="0.7" stroke-linecap="butt"/>
<ellipse cx="683.6" cy="453.2" rx="3.2" ry="5" transform="rotate(-25 683.6 453.2)" fill="#fff" stroke="#333" stroke-width="1.1"/>
<line x1="682.1" y1="451.7" x2="685.1" y2="454.7" stroke="#555" stroke-width="0.8" stroke-linecap="butt"/>
<line x1="682.1" y1="454.7" x2="685.1" y2="451.7" stroke="#555" stroke-width="0.8" stroke-linecap="butt"/>
<line x1="705.5" y1="444" x2="712.5" y2="440.5" stroke="#333" stroke-width="1" stroke-dasharray="3,2" stroke-linecap="butt"/>
<ellipse cx="730" cy="434.6" rx="1.4" ry="4.7" transform="rotate(-16.9 730 434.6)" fill="#fff" stroke="#222" stroke-width="1"/>
<polygon points="720.2,442.5 731.4,439.1 728.6,430.1 717.4,433.5" fill="#fff"/>
<line x1="720.2" y1="442.5" x2="731.4" y2="439.1" stroke="#222" stroke-width="1.1" stroke-linecap="butt"/>
<line x1="717.4" y1="433.5" x2="728.6" y2="430.1" stroke="#222" stroke-width="1.1" stroke-linecap="butt"/>
<line x1="721" y1="435.1" x2="727.7" y2="433.1" stroke="#222" stroke-width="1.062" stroke-linecap="butt"/>
<line x1="722.2" y1="439.2" x2="728.9" y2="437.1" stroke="#222" stroke-width="1.062" stroke-linecap="butt"/>
<line x1="725.6" y1="438.2" x2="724.3" y2="434.1" stroke="#222" stroke-width="1" stroke-linecap="butt"/>
<ellipse cx="718.8" cy="438" rx="3.7" ry="5.9" transform="rotate(-16.9 718.8 438)" fill="#fff" stroke="#111" stroke-width="1.1"/>
<ellipse cx="718.8" cy="438" rx="2.5" ry="4.2" transform="rotate(-16.9 718.8 438)" fill="#555" stroke="none" stroke-width="0"/>
<ellipse cx="719.1" cy="438" rx="1.5" ry="2.7" transform="rotate(-16.9 719.1 438)" fill="#eee" stroke="none" stroke-width="0"/>
<line x1="731" y1="434" x2="739" y2="431" stroke="#333" stroke-width="1" stroke-dasharray="3,2" stroke-linecap="butt"/>
<polygon points="948.8,395 919,383 914.8,383.7 917.3,387.2 946.9,399.7" fill="#444"/>
<line x1="948.8" y1="395" x2="945.8" y2="399.2" stroke="#bbb" stroke-width="0.7" stroke-linecap="butt"/>
<line x1="947" y1="394.3" x2="944" y2="398.5" stroke="#bbb" stroke-width="0.7" stroke-linecap="butt"/>
<line x1="945.2" y1="393.6" x2="942.2" y2="397.8" stroke="#bbb" stroke-width="0.7" stroke-linecap="butt"/>
<line x1="943.5" y1="392.8" x2="940.4" y2="397" stroke="#bbb" stroke-width="0.7" stroke-linecap="butt"/>
<line x1="941.7" y1="392.1" x2="938.7" y2="396.3" stroke="#bbb" stroke-width="0.7" stroke-linecap="butt"/>
<line x1="939.9" y1="391.4" x2="936.9" y2="395.6" stroke="#bbb" stroke-width="0.7" stroke-linecap="butt"/>
<line x1="938.1" y1="390.6" x2="935.1" y2="394.8" stroke="#bbb" stroke-width="0.7" stroke-linecap="butt"/>
<line x1="936.4" y1="389.9" x2="933.3" y2="394.1" stroke="#bbb" stroke-width="0.7" stroke-linecap="butt"/>
<line x1="934.6" y1="389.2" x2="931.6" y2="393.4" stroke="#bbb" stroke-width="0.7" stroke-linecap="butt"/>
<line x1="932.8" y1="388.4" x2="929.8" y2="392.6" stroke="#bbb" stroke-width="0.7" stroke-linecap="butt"/>
<line x1="931" y1="387.7" x2="928" y2="391.9" stroke="#bbb" stroke-width="0.7" stroke-linecap="butt"/>
<line x1="929.3" y1="387" x2="926.2" y2="391.2" stroke="#bbb" stroke-width="0.7" stroke-linecap="butt"/>
<line x1="927.5" y1="386.2" x2="924.5" y2="390.4" stroke="#bbb" stroke-width="0.7" stroke-linecap="butt"/>
<line x1="925.7" y1="385.5" x2="922.7" y2="389.7" stroke="#bbb" stroke-width="0.7" stroke-linecap="butt"/>
<line x1="923.9" y1="384.8" x2="920.9" y2="389" stroke="#bbb" stroke-width="0.7" stroke-linecap="butt"/>
<line x1="922.2" y1="384" x2="919.1" y2="388.2" stroke="#bbb" stroke-width="0.7" stroke-linecap="butt"/>
<line x1="920.4" y1="383.3" x2="917.4" y2="387.5" stroke="#bbb" stroke-width="0.7" stroke-linecap="butt"/>
<line x1="918.6" y1="382.6" x2="915.6" y2="386.8" stroke="#bbb" stroke-width="0.7" stroke-linecap="butt"/>
<ellipse cx="950.6" cy="398.5" rx="3.8" ry="6" transform="rotate(158 950.6 398.5)" fill="#fff" stroke="#333" stroke-width="1.1"/>
<line x1="948.8" y1="396.7" x2="952.4" y2="400.3" stroke="#555" stroke-width="0.8" stroke-linecap="butt"/>
<line x1="948.8" y1="400.3" x2="952.4" y2="396.7" stroke="#555" stroke-width="0.8" stroke-linecap="butt"/>
<ellipse cx="885" cy="372.8" rx="2.3" ry="7.6" transform="rotate(-162.7 885 372.8)" fill="#fff" stroke="#222" stroke-width="1"/>
<polygon points="901.4,369.9 887.3,365.5 882.7,380.1 896.8,384.5" fill="#fff"/>
<line x1="901.4" y1="369.9" x2="887.3" y2="365.5" stroke="#222" stroke-width="1.1" stroke-linecap="butt"/>
<line x1="896.8" y1="384.5" x2="882.7" y2="380.1" stroke="#222" stroke-width="1.1" stroke-linecap="butt"/>
<line x1="894.6" y1="379.4" x2="886.1" y2="376.7" stroke="#222" stroke-width="1.71" stroke-linecap="butt"/>
<line x1="896.6" y1="372.8" x2="888.1" y2="370.2" stroke="#222" stroke-width="1.71" stroke-linecap="butt"/>
<line x1="892.4" y1="371.5" x2="890.3" y2="378" stroke="#222" stroke-width="1" stroke-linecap="butt"/>
<ellipse cx="899.1" cy="377.2" rx="5.9" ry="9.5" transform="rotate(-162.7 899.1 377.2)" fill="#fff" stroke="#111" stroke-width="1.6"/>
<ellipse cx="899.1" cy="377.2" rx="4" ry="6.8" transform="rotate(-162.7 899.1 377.2)" fill="#555" stroke="none" stroke-width="0"/>
<ellipse cx="899.4" cy="377.2" rx="2.5" ry="4.3" transform="rotate(-162.7 899.4 377.2)" fill="#eee" stroke="none" stroke-width="0"/>
<text x="488.6" y="470" font-size="17" fill="#1c1c1c" stroke="#1c1c1c" stroke-width="0.25" text-anchor="start" textLength="121.1" lengthAdjust="spacingAndGlyphs">Отверстие для</text>
<text x="488.6" y="488.6" font-size="17" fill="#1c1c1c" stroke="#1c1c1c" stroke-width="0.25" text-anchor="start" textLength="86" lengthAdjust="spacingAndGlyphs">крепления</text>
</svg>
</body></html>
